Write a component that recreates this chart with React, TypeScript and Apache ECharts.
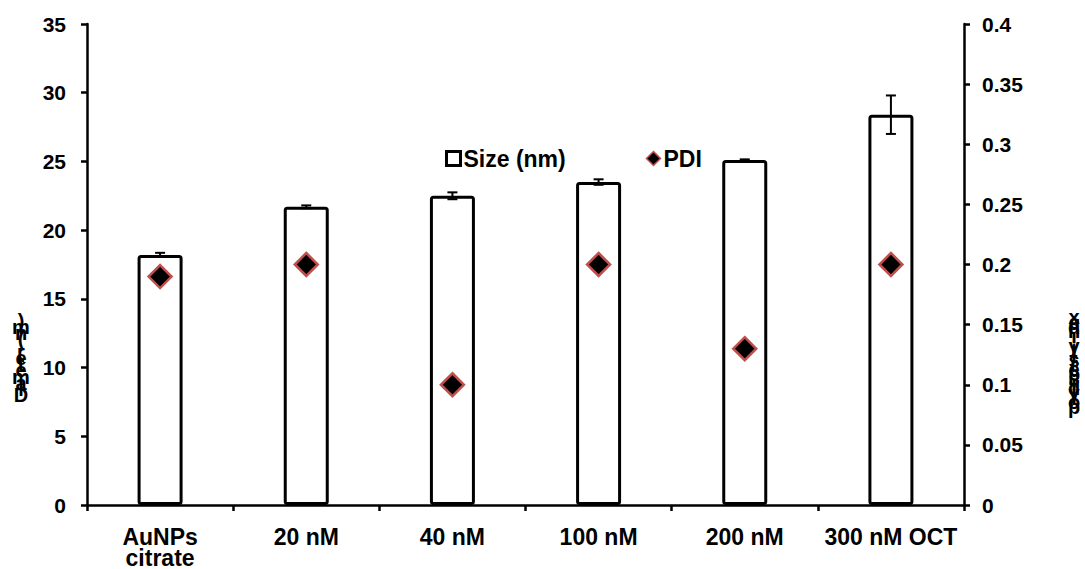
import React, { useEffect, useRef } from "react";
import * as echarts from "echarts";

const categories = ["AuNPs\ncitrate", "20 nM", "40 nM", "100 nM", "200 nM", "300 nM OCT"];
const sizeValues = [18.2, 21.7, 22.5, 23.5, 25.1, 28.4];
const sizeErrors = [0.15, 0.1, 0.25, 0.2, 0.05, 1.4];
const pdiValues = [0.19, 0.2, 0.1, 0.2, 0.13, 0.2];
const leftTitle = "Diameter (nm)";
const rightTitle = "polydispersity index";

const FONT = "'Liberation Sans', Arial, sans-serif";

export default function App() {
  const ref = useRef<HTMLDivElement>(null);
  useEffect(() => {
    document.body.style.margin = "0";
    if (!ref.current) return;
    const chart = echarts.init(ref.current, null, { renderer: "svg" });
    const stack = (s: string) => s.split("").reverse().join("\n");
    const errData = sizeValues.map((v, i) => [i, v, sizeErrors[i]]);
    const lbl = { color: "#000", fontWeight: "bold", fontSize: 21, fontFamily: FONT };
    chart.setOption({
      animation: false,
      textStyle: { fontFamily: FONT },
      grid: { left: 87, right: 121, top: 24, bottom: 56 },
      legend: {
        left: 440,
        top: 142,
        itemGap: 80,
        itemWidth: 14,
        itemHeight: 14,
        textStyle: { ...lbl, fontSize: 23, padding: [0, 0, 0, -2] },
        data: [
          { name: "Size (nm)", icon: "rect", itemStyle: { color: "#fff", borderColor: "#000", borderWidth: 3 } },
          { name: "PDI", icon: "diamond", itemStyle: { color: "#000", borderColor: "#c0504d", borderWidth: 1.5 } },
        ],
      },
      xAxis: {
        type: "category",
        data: categories,
        axisLine: { lineStyle: { color: "#000", width: 2.5 } },
        axisTick: { show: true, interval: 0, length: 6, lineStyle: { color: "#000", width: 2.5 } },
        axisLabel: { ...lbl, fontSize: 23, interval: 0, margin: 21, lineHeight: 21 },
      },
      yAxis: [
        {
          type: "value",
          min: 0,
          max: 35,
          interval: 5,
          splitLine: { show: false },
          axisLine: { show: true, lineStyle: { color: "#000", width: 2.5 } },
          axisTick: { show: true, length: 6, lineStyle: { color: "#000", width: 2.5 } },
          axisLabel: { ...lbl, margin: 21 },
        },
        {
          type: "value",
          min: 0,
          max: 0.4,
          interval: 0.05,
          splitLine: { show: false },
          axisLine: { show: true, lineStyle: { color: "#000", width: 2.5 } },
          axisTick: { show: true, length: 6, lineStyle: { color: "#000", width: 2.5 } },
          axisLabel: { ...lbl, margin: 18 },
        },
      ],
      series: [
        {
          name: "Size (nm)",
          type: "bar",
          data: sizeValues,
          barWidth: 45,
          itemStyle: { color: "#fff", borderColor: "#000", borderWidth: 3, borderRadius: 2 },
          z: 2,
        },
        {
          name: "err",
          type: "custom",
          data: errData,
          z: 3,
          renderItem: (params: any, api: any) => {
            const x = api.value(0);
            const y = api.value(1);
            const e = api.value(2);
            const top = api.coord([x, y + e]);
            const bot = api.coord([x, y - e]);
            const cap = 5;
            const st = { stroke: "#000", lineWidth: 2 };
            return {
              type: "group",
              children: [
                { type: "line", shape: { x1: top[0], y1: top[1], x2: bot[0], y2: bot[1] }, style: st },
                { type: "line", shape: { x1: top[0] - cap, y1: top[1], x2: top[0] + cap, y2: top[1] }, style: st },
                { type: "line", shape: { x1: bot[0] - cap, y1: bot[1], x2: bot[0] + cap, y2: bot[1] }, style: st },
              ],
            };
          },
        },
        {
          name: "PDI",
          type: "scatter",
          yAxisIndex: 1,
          data: pdiValues,
          symbol: "diamond",
          symbolSize: [23, 23],
          itemStyle: { color: "#000", borderColor: "#c0504d", borderWidth: 2.5, opacity: 1 },
          z: 4,
        },
      ],
      graphic: [
        {
          type: "text",
          x: 21,
          y: 358,
          style: {
            text: stack(leftTitle),
            fontFamily: FONT,
            fontWeight: "bold",
            fontSize: 20,
            lineHeight: 6.2,
            fill: "#000",
            align: "center",
            verticalAlign: "middle",
          },
        },
        {
          type: "text",
          x: 1074,
          y: 362,
          style: {
            text: stack(rightTitle),
            fontFamily: FONT,
            fontWeight: "bold",
            fontSize: 20,
            lineHeight: 4.7,
            fill: "#000",
            align: "center",
            verticalAlign: "middle",
          },
        },
      ],
    });
    return () => chart.dispose();
  }, []);
  return <div ref={ref} style={{ width: 1085, height: 569 }} />;
}
